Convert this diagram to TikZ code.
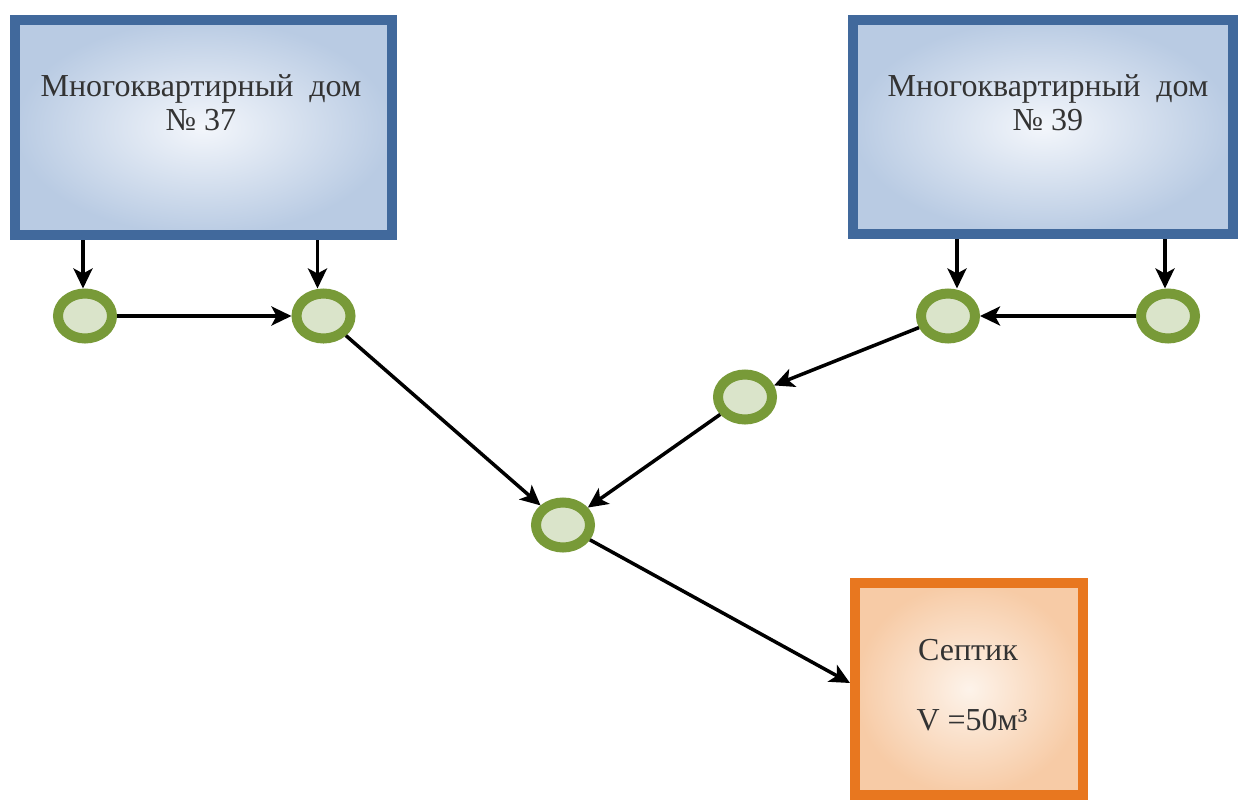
\documentclass[tikz,border=0pt]{standalone}
\usepackage{fontspec}
\setmainfont{Liberation Serif}
\usetikzlibrary{shapes.geometric,arrows.meta,shadows}

\definecolor{houseedge}{HTML}{41699C}
\definecolor{houseinner}{HTML}{F3F6FB}
\definecolor{houseouter}{HTML}{B9CBE3}
\definecolor{tankedge}{HTML}{E8771F}
\definecolor{tankinner}{HTML}{FDF3EA}
\definecolor{tankouter}{HTML}{F7CBA6}
\definecolor{welledge}{HTML}{789A38}
\definecolor{wellfill}{HTML}{DAE4CA}

\tikzset{
  house/.style={rectangle, draw=houseedge, line width=10pt,
    inner color=houseinner, outer color=houseouter,
    drop shadow={shadow xshift=3pt, shadow yshift=-3pt, opacity=0.25}},
  tank/.style={rectangle, draw=tankedge, line width=10pt,
    inner color=tankinner, outer color=tankouter,
    drop shadow={shadow xshift=3pt, shadow yshift=-3pt, opacity=0.2}},
  well/.style={ellipse, draw=welledge, line width=10pt, fill=wellfill,
    minimum width=54pt, minimum height=45pt, inner sep=0pt},
  caption/.style={align=center, font=\fontsize{32}{34}\selectfont, text=black!80},
  flow/.style={line width=3.5pt, -{Stealth[length=20pt,width=19pt,inset=5pt]}}
}

\begin{document}
\begin{tikzpicture}[x=1pt, y=-1pt]
  \useasboundingbox (0,0) rectangle (1240,803);

  % buildings and the septic tank
  \node[house, minimum width=377pt, minimum height=215pt] (b37) at (203.5,127.5) {};
  \node[house, minimum width=380pt, minimum height=214pt] (b39) at (1043,127) {};
  \node[tank, minimum width=228pt, minimum height=212pt] (tank) at (969,689) {};

  \node[caption] (t37) at (201,103) {Многоквартирный\ \ дом\\№ 37};
  \node[caption] (t39) at (1048,103) {Многоквартирный\ \ дом\\№ 39};
  \node[caption] (tname) at (968,650) {Септик};
  \node[caption] (tvol) at (972,720) {V =50м³};

  % inspection wells
  \node[well] (w1) at (85,316) {};
  \node[well] (w2) at (323.5,316) {};
  \node[well] (w3) at (948,316) {};
  \node[well] (w4) at (1168,316) {};
  \node[well] (w5) at (745,397) {};
  \node[well] (w6) at (563,525) {};

  % outlets from the buildings
  \draw[flow] ([xshift=-2pt]w1.north |- b37.south) -- ([xshift=-2pt]w1.north);
  \draw[flow] ([xshift=-6pt]w2.north |- b37.south) -- ([xshift=-6pt]w2.north);
  \draw[flow] ([xshift=9pt]w3.north |- b39.south) -- ([xshift=9pt]w3.north);
  \draw[flow] ([xshift=-3pt]w4.north |- b39.south) -- ([xshift=-3pt]w4.north);

  % sewer lines
  \draw[flow] (w1) -- (w2);
  \draw[flow] (w4) -- (w3);
  \draw[flow] (w3) -- (w5);
  \draw[flow] (w5) -- (w6);
  \draw[flow] (w2) -- (w6);
  \draw[flow] (w6) -- ([yshift=6pt]tank.west);
\end{tikzpicture}
\end{document}
